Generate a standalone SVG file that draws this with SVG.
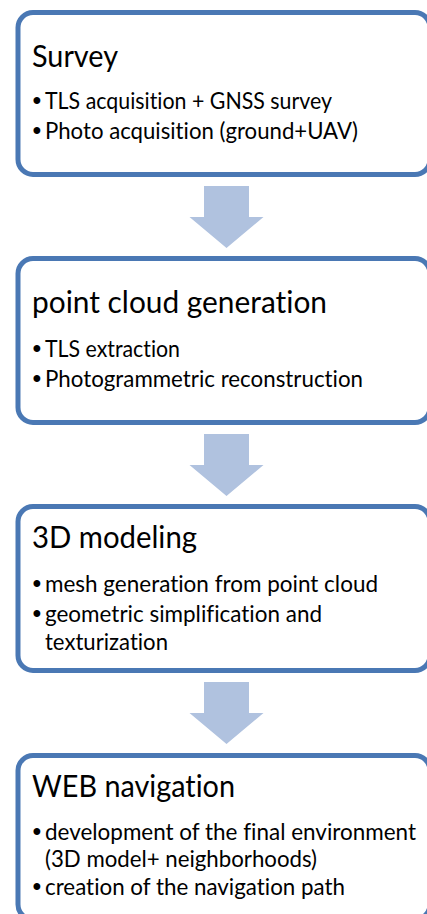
<svg xmlns="http://www.w3.org/2000/svg" width="427" height="914" viewBox="0 0 427 914">
  <defs>
    <style>
      .box { fill: #ffffff; stroke: #4A78B4; stroke-width: 5; }
      .arrow { fill: #B0C2DF; stroke: none; }
      text { font-variant-ligatures: none; fill: #000000; }
      .title { font-family: Lato, "Liberation Sans", sans-serif; font-size: 30px; }
      .item { font-family: Lato, "Liberation Sans", sans-serif; font-size: 22.5px; }
      .dot { font-family: "Liberation Sans", Arial, sans-serif; font-size: 25px; }
    </style>
  </defs>
  <rect width="427" height="914" fill="#ffffff"/>

  <!-- block arrows between the stages -->
  <g id="connectors">
    <polygon class="arrow" points="204,186 249,186 249,217 263.5,217 226.5,248 189.5,217 204,217"/>
    <polygon class="arrow" points="204,434 249,434 249,465 263.5,465 226.5,496 189.5,465 204,465"/>
    <polygon class="arrow" points="204,682 249,682 249,713 263.5,713 226.5,744 189.5,713 204,713"/>
  </g>

  <g id="survey">
    <rect class="box" x="18" y="12.5" width="412" height="162" rx="15" ry="15"/>
    <text class="title" x="32" y="67" textLength="86" lengthAdjust="spacingAndGlyphs">Survey</text>
    <text class="dot" x="32.5" y="109">•</text>
    <text class="item" x="45" y="109" textLength="287" lengthAdjust="spacingAndGlyphs">TLS acquisition + GNSS survey</text>
    <text class="dot" x="32.5" y="139">•</text>
    <text class="item" x="45" y="139" textLength="313" lengthAdjust="spacingAndGlyphs">Photo acquisition (ground+UAV)</text>
  </g>

  <g id="point-cloud">
    <rect class="box" x="18" y="258.5" width="412" height="164" rx="15" ry="15"/>
    <text class="title" x="32" y="313" textLength="295" lengthAdjust="spacingAndGlyphs">point cloud generation</text>
    <text class="dot" x="32.5" y="357">•</text>
    <text class="item" x="45" y="357" textLength="135" lengthAdjust="spacingAndGlyphs">TLS extraction</text>
    <text class="dot" x="32.5" y="387">•</text>
    <text class="item" x="45" y="387" textLength="318" lengthAdjust="spacingAndGlyphs">Photogrammetric reconstruction</text>
  </g>

  <g id="modeling">
    <rect class="box" x="18" y="506.5" width="412" height="164" rx="15" ry="15"/>
    <text class="title" x="32" y="548" textLength="165" lengthAdjust="spacingAndGlyphs">3D modeling</text>
    <text class="dot" x="32.5" y="592">•</text>
    <text class="item" x="45" y="592" textLength="333" lengthAdjust="spacingAndGlyphs">mesh generation from point cloud</text>
    <text class="dot" x="32.5" y="622">•</text>
    <text class="item" x="45" y="622" textLength="277" lengthAdjust="spacingAndGlyphs">geometric simplification and</text>
    <text class="item" x="45" y="649.5" textLength="123" lengthAdjust="spacingAndGlyphs">texturization</text>
  </g>

  <g id="web-navigation">
    <rect class="box" x="18" y="755.5" width="412" height="164" rx="15" ry="15"/>
    <text class="title" x="32" y="797" textLength="203" lengthAdjust="spacingAndGlyphs">WEB navigation</text>
    <text class="dot" x="32.5" y="839.5">•</text>
    <text class="item" x="45" y="839.5" textLength="371" lengthAdjust="spacingAndGlyphs">development of the final environment</text>
    <text class="item" x="45" y="867" textLength="272" lengthAdjust="spacingAndGlyphs">(3D model+ neighborhoods)</text>
    <text class="dot" x="32.5" y="895">•</text>
    <text class="item" x="45" y="895" textLength="300" lengthAdjust="spacingAndGlyphs">creation of the navigation path</text>
  </g>
</svg>
